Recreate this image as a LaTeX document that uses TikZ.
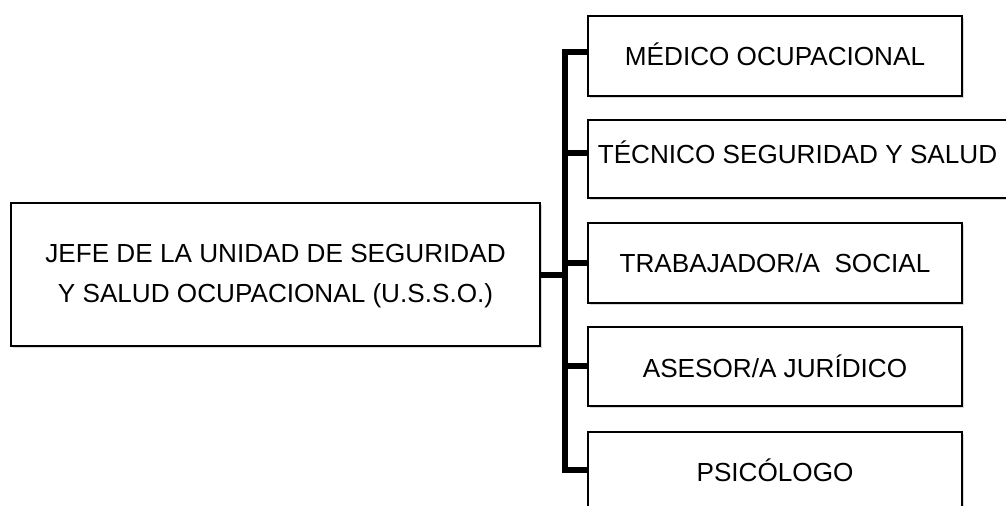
\documentclass[tikz,border=0pt]{standalone}
\usepackage{fontspec}
\setmainfont{Liberation Sans}
\usetikzlibrary{shadows}
\begin{document}
\begin{tikzpicture}[x=0.75pt,y=-0.75pt,
  boxnode/.style={draw=black, line width=1.2pt, fill=white, inner sep=0pt,
    minimum width=280.5pt, minimum height=60pt,
    font=\fontsize{19.6}{30}\selectfont, align=center,
    drop shadow={shadow xshift=1.2pt, shadow yshift=-1.8pt, opacity=0.3}},
  txt/.style={inner sep=0pt, font=\fontsize{19.6}{30}\selectfont},
  conn/.style={line width=4pt, line cap=butt, line join=miter},
  mainconn/.style={line width=4.8pt}]
\clip (0,0) rectangle (1006,506);
\fill[white] (0,0) rectangle (1006,506);

\node[boxnode, minimum width=396.75pt, minimum height=107.25pt] (main) at (275.5,274.5) {};
\node[txt, align=center] (tm) at (275.5,276.5)
  {JEFE DE LA UNIDAD DE SEGURIDAD\\Y SALUD OCUPACIONAL (U.S.S.O.)};

\node[boxnode] (b1) at (775,56) {};
\node[txt] (t1) at (775,54) {MÉDICO OCUPACIONAL};
\node[boxnode, minimum width=324pt, minimum height=58.5pt] (b2) at (804,159) {};
\node[txt] (t2) at (797.5,152.5) {TÉCNICO SEGURIDAD Y SALUD};
\node[boxnode] (b3) at (775,263) {};
\node[txt] (t3) at (775,263) {TRABAJADOR/A\ \ SOCIAL};
\node[boxnode, minimum height=59.25pt] (b4) at (775,366.5) {};
\node[txt] (t4) at (775,366.5) {ASESOR/A JURÍDICO};
\node[boxnode] (b5) at (775,472) {};
\node[txt] (t5) at (775,470.5) {PSICÓLOGO};

\coordinate (j1) at (565,52);
\coordinate (j2) at (565,153);
\coordinate (j3) at (565,263);
\coordinate (j4) at (565,366);
\coordinate (j5) at (565,470);
\coordinate (jm) at (565,275);

\draw[conn] (j1 -| b1.west) -- (j1) -- (j5) -- (j5 -| b5.west);
\draw[conn] (j2) -- (j2 -| b2.west);
\draw[conn] (j3) -- (j3 -| b3.west);
\draw[conn] (j4) -- (j4 -| b4.west);
\draw[mainconn] (main.east |- jm) -- (jm);
\end{tikzpicture}
\end{document}
